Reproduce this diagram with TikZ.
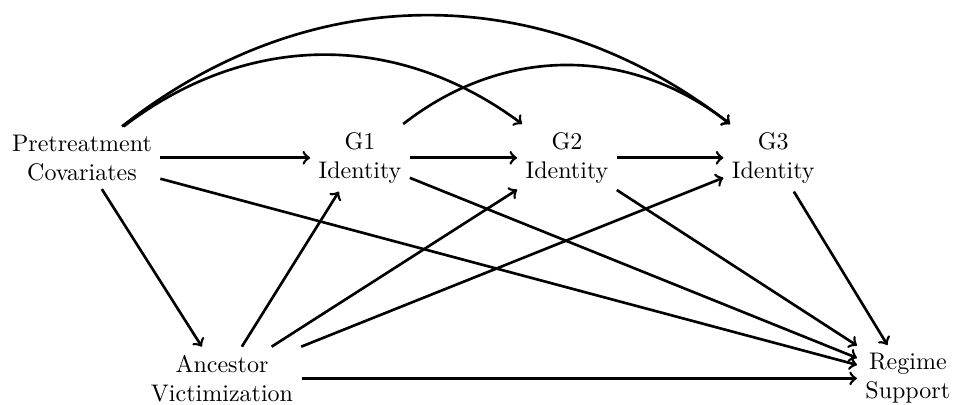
\documentclass[tikz,border=0pt]{standalone}
\begin{document}
\begin{tikzpicture}[
  var/.style={align=center, inner sep=3.33pt},
  arr/.style={->, line width=1.1pt}
]
\useasboundingbox (0,0) rectangle (14.01,5.92);
\node[var] (pc) at (1.20,3.61) {Pretreatment\\Covariates};
\node[var] (g1) at (5.27,3.61) {G1\\Identity};
\node[var] (g2) at (8.30,3.61) {G2\\Identity};
\node[var] (g3) at (11.32,3.61) {G3\\Identity};
\node[var] (av) at (3.25,0.38) {Ancestor\\Victimization};
\node[var] (rs) at (13.29,0.38) {Regime\\Support};

\draw[arr] (pc) -- (g1);
\draw[arr] (pc) to[bend left=37] (g2);
\draw[arr] (pc) to[bend left=38] (g3);
\draw[arr] (pc) -- (av);
\draw[arr] (pc) -- (rs);
\draw[arr] (g1) -- (g2);
\draw[arr] (g2) -- (g3);
\draw[arr] (g1) to[bend left=38] (g3);
\draw[arr] (g1) -- (rs);
\draw[arr] (g2) -- (rs);
\draw[arr] (g3) -- (rs);
\draw[arr] (av) -- (g1);
\draw[arr] (av) -- (g2);
\draw[arr] (av) -- (g3);
\draw[arr] (av) -- (rs);
\end{tikzpicture}
\end{document}
